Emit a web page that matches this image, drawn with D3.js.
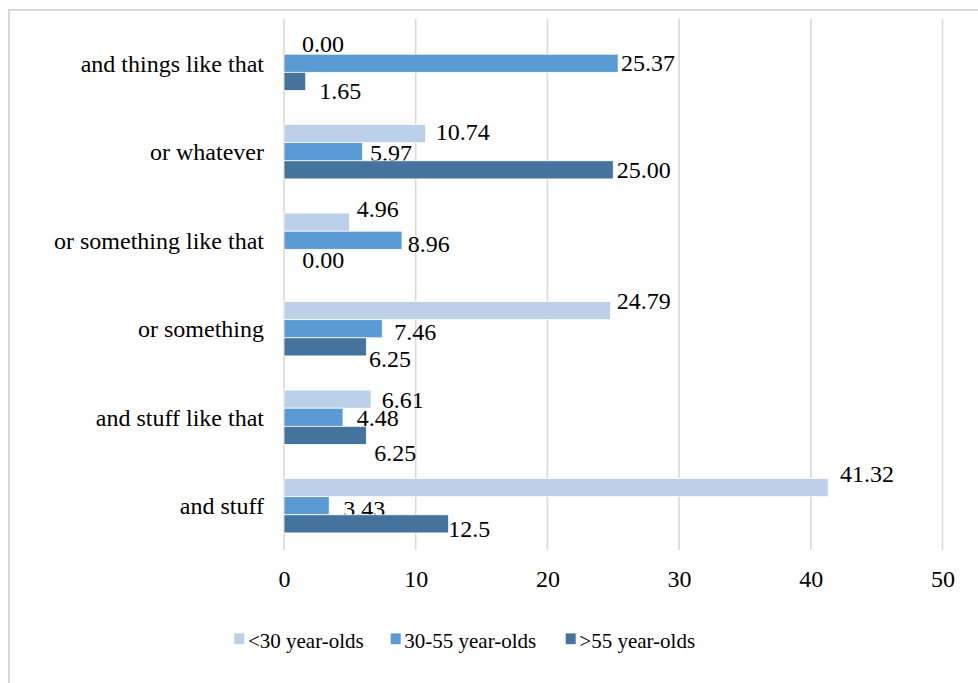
<!DOCTYPE html>
<html>
<head>
<meta charset="utf-8">
<script src="https://cdn.jsdelivr.net/npm/d3@7"></script>
<style>
  html, body { margin: 0; padding: 0; background: #fff; }
  svg { display: block; }
</style>
</head>
<body>
<svg id="chart" width="978" height="683"></svg>
<script>
// Phrase categories, top to bottom
const categories = [
  "and things like that",
  "or whatever",
  "or something like that",
  "or something",
  "and stuff like that",
  "and stuff"
];
const seriesNames = ["<30 year-olds", "30-55 year-olds", ">55 year-olds"];
const under30   = [0.00, 10.74, 4.96, 24.79, 6.61, 41.32];
const age30to55 = [25.37, 5.97, 8.96, 7.46, 4.48, 3.43];
const over55    = [1.65, 25.00, 0.00, 6.25, 6.25, 12.5];
const valueLabels = [
  ["0.00", "25.37", "1.65"],
  ["10.74", "5.97", "25.00"],
  ["4.96", "8.96", "0.00"],
  ["24.79", "7.46", "6.25"],
  ["6.61", "4.48", "6.25"],
  ["41.32", "3.43", "12.5"]
];
const xTicks = [0, 10, 20, 30, 40, 50];

// Hand-placed label offsets [dx from bar end, baseline dy from bar middle]
const labelNudge = [
  [[18, 7.3], [3, 8], [13.6, 17.3]],
  [[10.3, 6.5], [7.4, 9.6], [3.5, 8.1]],
  [[7.4, -5.5], [5.7, 11.5], [18.3, 9.3]],
  [[6.2, -1.2], [12.1, 11.5], [2.7, 20.2]],
  [[10.7, 9.1], [13.7, 8.9], [8, 25.9]],
  [[11.8, -5.7], [14.1, 11.3], [-0.3, 13.4]]
];

const colors = ["#BDD0EA", "#5B9BD5", "#44739E"];
const series = [under30, age30to55, over55];
const FONT = "'Liberation Serif'";

const svg = d3.select("#chart");
const plot = { left: 284, right: 942.5, top: 19, bottom: 550 };

// Outer chart frame (only top/left edges fall inside the view)
svg.append("rect")
  .attr("x", 9).attr("y", 10)
  .attr("width", 1000).attr("height", 1000)
  .attr("fill", "none")
  .attr("stroke", "#D9D9D9")
  .attr("stroke-width", 2);

const x = d3.scaleLinear().domain([0, 50]).range([plot.left, plot.right]);
const y0 = d3.scaleBand().domain(categories)
  .range([plot.top, plot.bottom])
  .paddingInner(0.386).paddingOuter(0.193);
const y1 = d3.scaleBand().domain(d3.range(3)).range([0, y0.bandwidth()]).padding(0);

// Vertical gridlines
svg.append("g")
  .selectAll("line")
  .data(xTicks)
  .join("line")
  .attr("x1", d => x(d)).attr("x2", d => x(d))
  .attr("y1", plot.top).attr("y2", plot.bottom)
  .attr("stroke", "#D9D9D9")
  .attr("stroke-width", 1.6);

// X axis tick labels
const xAxis = d3.axisBottom(x).tickValues(xTicks).tickSize(0).tickPadding(0);
const xg = svg.append("g").attr("transform", `translate(0,${plot.bottom})`).call(xAxis);
xg.attr("font-family", null).attr("font-size", null);
xg.select(".domain").remove();
xg.selectAll("text")
  .attr("y", 36.7).attr("dy", null)
  .style("font-family", FONT)
  .style("font-size", "24px")
  .style("fill", "#000");

// Category labels
const yAxis = d3.axisLeft(y0).tickSize(0).tickPadding(20);
const yg = svg.append("g").attr("transform", `translate(${plot.left},0)`).call(yAxis);
yg.attr("font-family", null).attr("font-size", null);
yg.select(".domain").remove();
yg.selectAll("text")
  .attr("dy", "0.35em")
  .style("font-family", FONT)
  .style("font-size", "24px")
  .style("fill", "#000");

// Data rows
const rows = categories.map((c, i) => ({
  cat: c,
  items: series.map((s, k) => ({ k, v: s[i], label: valueLabels[i][k], nudge: labelNudge[i][k] }))
}));

const groups = svg.append("g").selectAll("g")
  .data(rows).join("g")
  .attr("transform", d => `translate(0,${y0(d.cat)})`);

// Value labels sit beneath the bars
groups.selectAll("text.val")
  .data(d => d.items)
  .join("text")
  .attr("class", "val")
  .attr("x", d => x(d.v) + d.nudge[0])
  .attr("y", d => y1(d.k) + y1.bandwidth() / 2 + d.nudge[1])
  .style("font-family", FONT)
  .style("font-size", "24px")
  .style("fill", "#000")
  .text(d => d.label);

groups.selectAll("rect")
  .data(d => d.items)
  .join("rect")
  .attr("x", x(0))
  .attr("y", d => y1(d.k))
  .attr("width", d => x(d.v) - x(0))
  .attr("height", y1.bandwidth())
  .attr("fill", d => colors[d.k])
  .attr("stroke", "#fff")
  .attr("stroke-width", 0.75);

// Legend
const legendX = [234.3, 390.7, 565.7];
const legend = svg.append("g").selectAll("g")
  .data(seriesNames).join("g")
  .attr("transform", (d, i) => `translate(${legendX[i]},633.4)`);
legend.append("rect")
  .attr("width", 10).attr("height", 10.8)
  .attr("fill", (d, i) => colors[i]);
legend.append("text")
  .attr("x", 13.6).attr("y", 14.3)
  .style("font-family", FONT)
  .style("font-size", "21px")
  .style("fill", "#000")
  .text(d => d);
</script>
</body>
</html>
